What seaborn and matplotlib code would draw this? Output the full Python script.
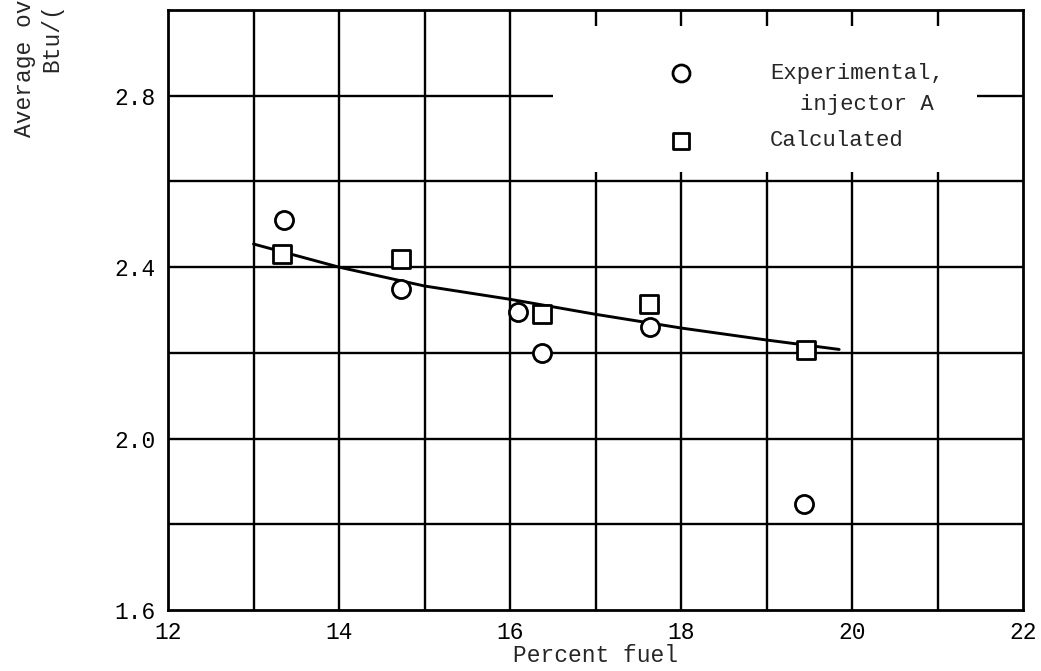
import matplotlib
matplotlib.use("Agg")
import matplotlib.pyplot as plt
import seaborn as sns
import pandas as pd

# valores
exp_x = [13.36, 14.73, 16.09, 16.37, 17.64, 19.44]
exp_y = [2.51, 2.35, 2.295, 2.20, 2.26, 1.847]

calc_x = [13.33, 14.72, 16.38, 17.63, 19.46]
calc_y = [2.431, 2.419, 2.291, 2.314, 2.207]

curve_x = [13.0, 14.0, 15.0, 16.0, 17.0, 18.0, 19.0, 19.85]
curve_y = [2.454, 2.40, 2.356, 2.325, 2.29, 2.258, 2.23, 2.208]

x_ticks = [12, 14, 16, 18, 20, 22]
y_ticks = [1.6, 2.0, 2.4, 2.8]
y_tick_labels = ["1.6", "2.0", "2.4", "2.8"]

sns.set_style("white")
plt.rcParams["font.family"] = ["Liberation Mono", "DejaVu Sans Mono"]

df_exp = pd.DataFrame({"x": exp_x, "y": exp_y})
df_calc = pd.DataFrame({"x": calc_x, "y": calc_y})
df_curve = pd.DataFrame({"x": curve_x, "y": curve_y})

fig = plt.figure(figsize=(10.41, 6.71), dpi=100)
ax = fig.add_axes([168 / 1041, 61 / 671, 855 / 1041, 600 / 671])

ax.set_xlim(12, 22)
ax.set_ylim(1.6, 3.0)

# ============================
# grade (interrompida na área da legenda)
# ============================
gk = dict(color="black", linewidth=1.7, zorder=1)
for xv in range(13, 22):
    if xv >= 17:
        ax.vlines(xv, 1.6, 2.622, **gk)
        ax.vlines(xv, 2.963, 3.0, **gk)
    else:
        ax.vlines(xv, 1.6, 3.0, **gk)
for yv in [1.8, 2.0, 2.2, 2.4, 2.6]:
    ax.hlines(yv, 12, 22, **gk)
ax.hlines(2.8, 12, 16.5, **gk)
ax.hlines(2.8, 21.46, 22, **gk)

# ============================
# curva e pontos
# ============================
sns.lineplot(data=df_curve, x="x", y="y", sort=False, color="black",
             linewidth=2.1, ax=ax, zorder=3)
sns.scatterplot(data=df_exp, x="x", y="y", marker="o", s=170,
                facecolor="white", edgecolor="black", linewidth=2.0,
                ax=ax, zorder=4)
sns.scatterplot(data=df_calc, x="x", y="y", marker="s", s=170,
                facecolor="white", edgecolor="black", linewidth=2.0,
                ax=ax, zorder=4)

# ============================
# legenda manual
# ============================
ax.scatter([0.5996], [0.895], transform=ax.transAxes, marker="o", s=150,
           facecolor="white", edgecolor="black", linewidth=2.0, zorder=5)
ax.scatter([0.5996], [0.782], transform=ax.transAxes, marker="s", s=140,
           facecolor="white", edgecolor="black", linewidth=2.0, zorder=5)
ax.text(0.704, 0.895, "Experimental,", transform=ax.transAxes,
        fontsize=16, va="center", ha="left")
ax.text(0.739, 0.842, "injector A", transform=ax.transAxes,
        fontsize=16, va="center", ha="left")
ax.text(0.704, 0.782, "Calculated", transform=ax.transAxes,
        fontsize=16, va="center", ha="left")

# ============================
# eixos
# ============================
ax.set_xticks(x_ticks)
ax.set_xticklabels([str(v) for v in x_ticks])
ax.set_yticks(y_ticks)
ax.set_yticklabels(y_tick_labels)
ax.tick_params(axis="both", length=0, labelsize=16.5, colors="black")
ax.tick_params(axis="x", pad=8)
ax.tick_params(axis="y", pad=9)
ax.set_xlabel("Percent fuel", fontsize=16.5, labelpad=0)
ax.set_ylabel("")

for sp in ax.spines.values():
    sp.set_visible(True)
    sp.set_color("black")
    sp.set_linewidth(2.0)

fig.text(24 / 1041, (671 - 137) / 671, "Average ov", rotation=90,
         ha="center", va="bottom", fontsize=16.5)
fig.text(52 / 1041, (671 - 72) / 671, "Btu/(", rotation=90,
         ha="center", va="bottom", fontsize=16.5)

fig.savefig("out.png", dpi=100)
